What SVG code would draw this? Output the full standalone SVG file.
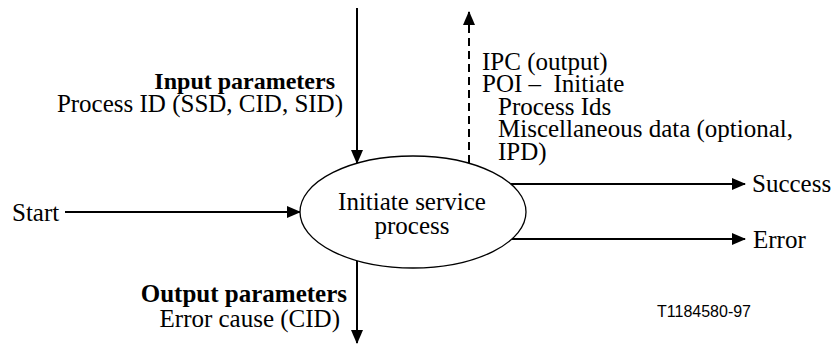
<svg xmlns="http://www.w3.org/2000/svg" width="834" height="345" viewBox="0 0 834 345">
<defs>
<marker id="ah" markerWidth="14" markerHeight="12" refX="13" refY="6" orient="auto" markerUnits="userSpaceOnUse">
<path d="M0,0 L14,6 L0,12 Z" fill="#000"/>
</marker>
</defs>
<style>
.b{font-weight:bold}
.e{text-anchor:end}
.m{text-anchor:middle}
.c{stroke:#000;stroke-width:2;fill:none;marker-end:url(#ah)}
.d{stroke-dasharray:8,5}
</style>
<rect width="834" height="345" fill="#fff"/>
<g id="connectors">
<line class="c" x1="357" y1="8" x2="357" y2="163"/>
<line class="c d" x1="469" y1="163" x2="469" y2="12"/>
<line class="c" x1="65" y1="212" x2="300" y2="212"/>
<line class="c" x1="511" y1="184" x2="745" y2="184"/>
<line class="c" x1="512" y1="239" x2="745" y2="239"/>
<line class="c" x1="357" y1="261" x2="357" y2="343"/>
</g>
<g font-family="Liberation Serif, Times New Roman, serif" font-size="25" fill="#000">
<g id="process">
<ellipse cx="413" cy="212" rx="113" ry="56" fill="#fff" stroke="#000" stroke-width="1.3"/>
<text class="m" x="412" y="210">Initiate service</text>
<text class="m" x="412" y="234">process</text>
</g>
<g id="input-label">
<text class="b e" x="335" y="89" font-size="24">Input parameters</text>
<text class="e" x="343" y="112">Process ID (SSD, CID, SID)</text>
</g>
<g id="output-label">
<text class="b e" x="347" y="302">Output parameters</text>
<text class="e" x="340" y="327">Error cause (CID)</text>
</g>
<g id="ipc-label">
<text x="482" y="70">IPC (output)</text>
<text x="482" y="92" xml:space="preserve">POI –  Initiate</text>
<text x="498" y="115">Process Ids</text>
<text x="498" y="137">Miscellaneous data (optional,</text>
<text x="498" y="160">IPD)</text>
</g>
<g id="start"><text x="12" y="221">Start</text></g>
<g id="success"><text x="752" y="192">Success</text></g>
<g id="error"><text x="753" y="248">Error</text></g>
</g>
<g id="figure-id"><text font-family="Liberation Sans, Arial, sans-serif" font-size="16" x="657" y="317">T1184580-97</text></g>
</svg>
